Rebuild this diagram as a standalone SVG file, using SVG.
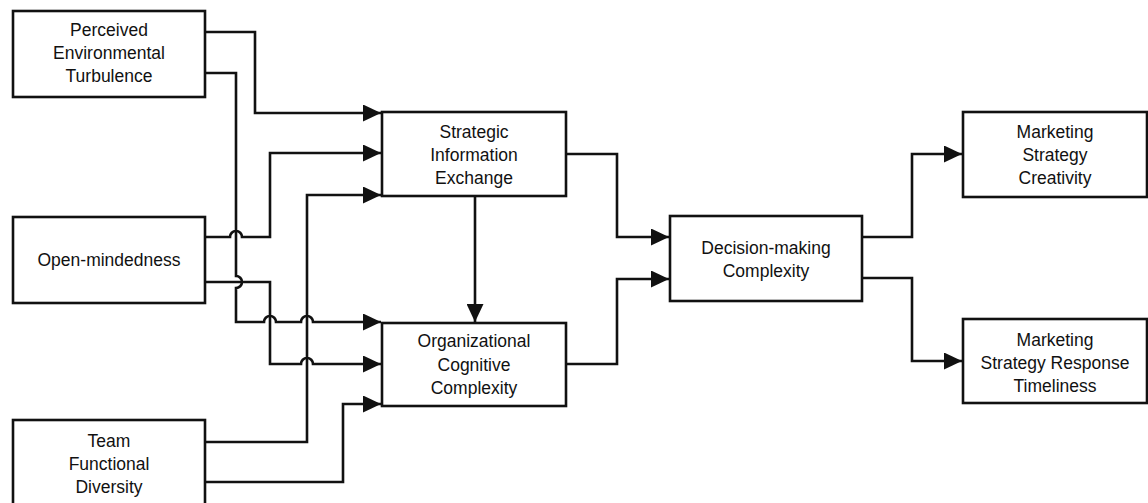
<svg xmlns="http://www.w3.org/2000/svg" width="1148" height="503" viewBox="0 0 1148 503">
<style>
.box{fill:#fff;stroke:#111;stroke-width:2.6}
.t{font-family:"Liberation Sans",Arial,sans-serif;font-size:17.5px;fill:#111;text-anchor:middle}
.c{fill:none;stroke:#111;stroke-width:2.6;stroke-linejoin:miter}
.a{marker-end:url(#ah)}
</style>
<defs>
<marker id="ah" markerUnits="userSpaceOnUse" markerWidth="18" markerHeight="17" refX="18" refY="8.5" orient="auto">
<path d="M0,0 L18,8.5 L0,17 z" fill="#111"/>
</marker>
</defs>
<rect width="1148" height="503" fill="#fff"/>
<g id="connectors">
<path class="c a" d="M205,32 H255 V113 H381"/>
<path class="c a" d="M205,73 H236 V276 a6,6 0 0 1 0,12 V322 H264 a6,6 0 0 1 12,0 H301 a6,6 0 0 1 12,0 H381"/>
<path class="c a" d="M205,237 H230 a6,6 0 0 1 12,0 H270 V153 H381"/>
<path class="c a" d="M205,282 H270 V364 H301 a6,6 0 0 1 12,0 H381"/>
<path class="c a" d="M205,442 H307 V195 H381"/>
<path class="c a" d="M205,482 H343 V404 H381"/>
<path class="c a" d="M475,196 V322"/>
<path class="c a" d="M566,154 H617 V237 H669"/>
<path class="c a" d="M566,364 H617 V279 H669"/>
<path class="c a" d="M862,237 H912 V154 H962"/>
<path class="c a" d="M862,278 H912 V361 H962"/>
</g>
<g id="pet">
<rect class="box" x="13" y="11" width="192" height="86"/>
<text class="t" x="109" y="36">Perceived</text>
<text class="t" x="109" y="59">Environmental</text>
<text class="t" x="109" y="82">Turbulence</text>
</g>
<g id="om">
<rect class="box" x="13" y="217" width="192" height="86"/>
<text class="t" x="109" y="266">Open-mindedness</text>
</g>
<g id="tfd">
<rect class="box" x="13" y="420" width="192" height="100"/>
<text class="t" x="109" y="447">Team</text>
<text class="t" x="109" y="470">Functional</text>
<text class="t" x="109" y="493">Diversity</text>
</g>
<g id="sie">
<rect class="box" x="382" y="112" width="184" height="84"/>
<text class="t" x="474" y="138">Strategic</text>
<text class="t" x="474" y="161">Information</text>
<text class="t" x="474" y="184">Exchange</text>
</g>
<g id="occ">
<rect class="box" x="382" y="323" width="184" height="83"/>
<text class="t" x="474" y="347">Organizational</text>
<text class="t" x="474" y="371">Cognitive</text>
<text class="t" x="474" y="394">Complexity</text>
</g>
<g id="dmc">
<rect class="box" x="670" y="216" width="192" height="85"/>
<text class="t" x="766" y="254">Decision-making</text>
<text class="t" x="766" y="277">Complexity</text>
</g>
<g id="msc">
<rect class="box" x="963" y="112" width="184" height="85"/>
<text class="t" x="1055" y="138">Marketing</text>
<text class="t" x="1055" y="161">Strategy</text>
<text class="t" x="1055" y="184">Creativity</text>
</g>
<g id="msrt">
<rect class="box" x="963" y="319" width="184" height="84"/>
<text class="t" x="1055" y="346">Marketing</text>
<text class="t" x="1055" y="369">Strategy Response</text>
<text class="t" x="1055" y="392">Timeliness</text>
</g>
</svg>
